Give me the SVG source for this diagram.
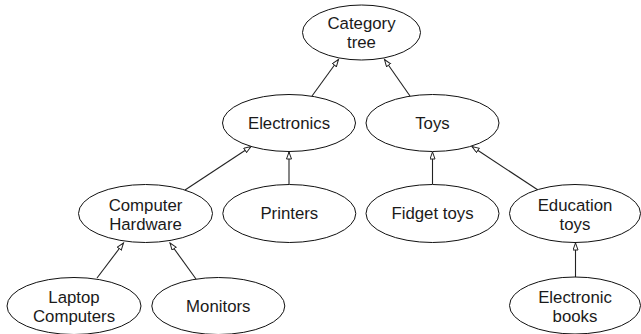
<svg xmlns="http://www.w3.org/2000/svg" width="641" height="334" viewBox="0 0 641 334">
<defs>
<style>
.n ellipse{fill:#fff;stroke:#111;stroke-width:1}
.n text{font-family:"Liberation Sans",Arial,Helvetica,sans-serif;font-size:16.8px;fill:#1a1a1a;text-anchor:middle}
.e line{stroke:#222;stroke-width:1.1;marker-end:url(#arr)}
</style>
<marker id="arr" markerUnits="userSpaceOnUse" markerWidth="10" markerHeight="8" refX="7.5" refY="3" orient="auto">
<path d="M0.5,0.5 L7.5,3 L0.5,5.5 z" fill="#fff" stroke="#222" stroke-width="1"/>
</marker>
</defs>
<rect width="641" height="334" fill="#fff"/>
<g class="e" id="connectors">
<line x1="312" y1="96" x2="338.5" y2="59.5"/>
<line x1="410" y1="96" x2="384.5" y2="59.5"/>
<line x1="185" y1="190" x2="251" y2="146.5"/>
<line x1="289" y1="184" x2="289" y2="152"/>
<line x1="432.5" y1="184" x2="432.5" y2="152"/>
<line x1="538" y1="190" x2="472" y2="146.5"/>
<line x1="575.5" y1="277" x2="575.5" y2="243"/>
<line x1="97" y1="278" x2="123.5" y2="243"/>
<line x1="196" y1="279" x2="170" y2="243"/>
</g>
<g class="n" id="category-tree"><ellipse cx="361.5" cy="32.5" rx="59" ry="27.5"/><text x="361.5" y="29">Category</text><text x="361.5" y="48">tree</text></g>
<g class="n" id="electronics"><ellipse cx="289" cy="123" rx="66.5" ry="28.5"/><text x="289" y="128.5">Electronics</text></g>
<g class="n" id="toys"><ellipse cx="432.5" cy="123" rx="66.5" ry="28.5"/><text x="432.5" y="128.5">Toys</text></g>
<g class="n" id="computer-hardware"><ellipse cx="145.5" cy="213.5" rx="67" ry="29"/><text x="145.5" y="210.5">Computer</text><text x="145.5" y="229.5">Hardware</text></g>
<g class="n" id="printers"><ellipse cx="289.3" cy="213.5" rx="66.5" ry="29"/><text x="289.3" y="219">Printers</text></g>
<g class="n" id="fidget-toys"><ellipse cx="432.5" cy="213.5" rx="66.5" ry="29"/><text x="432.5" y="219">Fidget toys</text></g>
<g class="n" id="education-toys"><ellipse cx="575" cy="213.5" rx="65.5" ry="29"/><text x="575" y="210.5">Education</text><text x="575" y="229.5">toys</text></g>
<g class="n" id="laptop-computers"><ellipse cx="74" cy="306" rx="67" ry="28.5"/><text x="74" y="303">Laptop</text><text x="74" y="322">Computers</text></g>
<g class="n" id="monitors"><ellipse cx="218.3" cy="306" rx="66.5" ry="28.5"/><text x="218.3" y="311.5">Monitors</text></g>
<g class="n" id="electronic-books"><ellipse cx="575" cy="305.5" rx="65.5" ry="28.5"/><text x="575" y="302.5">Electronic</text><text x="575" y="321.5">books</text></g>
</svg>
